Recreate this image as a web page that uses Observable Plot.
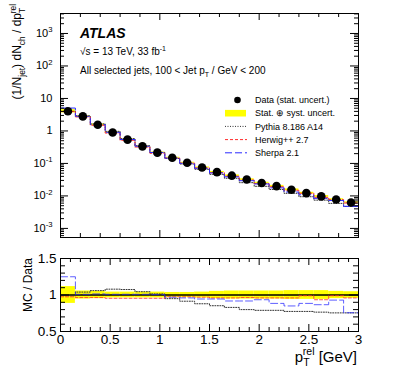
<!DOCTYPE html>
<html><head><meta charset="utf-8">
<script src="https://cdn.jsdelivr.net/npm/d3@7"></script>
<script src="https://cdn.jsdelivr.net/npm/@observablehq/plot@0.6"></script>
<style>
html,body{margin:0;padding:0;background:#fff;}
#chart{position:relative;width:399px;height:379px;overflow:hidden;font-family:"Liberation Sans",Arial,Helvetica,sans-serif;}
#chart svg{position:absolute;left:0;}
</style></head><body><div id="chart"></div>
<script>
// ---- data ----
const binEdges = [0,0.15,0.3,0.45,0.6,0.75,0.9,1.05,1.2,1.35,1.5,1.65,1.8,1.95,2.1,2.25,2.4,2.55,2.7,2.85,3.0];
const dataValues = [4.05,2.8,1.55,0.90,0.54,0.335,0.215,0.15,0.105,0.075,0.054,0.042,0.032,0.025,0.020,0.0155,0.0122,0.0097,0.0078,0.0063];
const totalUncert = [0.115,0.055,0.05,0.04,0.04,0.04,0.04,0.035,0.035,0.04,0.05,0.055,0.055,0.055,0.055,0.06,0.06,0.06,0.05,0.045];
const pythiaRatio = [0.99,1.04,1.06,1.08,1.075,1.045,1.015,0.95,0.915,0.88,0.853,0.83,0.80,0.79,0.79,0.775,0.775,0.765,0.755,0.755];
const herwigRatio = [0.975,0.965,0.965,0.955,0.955,0.955,0.955,0.975,0.975,0.97,0.96,0.96,0.965,0.96,0.96,0.96,0.99,0.935,0.99,0.96];
const sherpaRatio = [1.25,1.01,1.015,1.01,1.01,1.01,1.005,0.97,0.96,0.945,0.945,0.918,0.918,0.935,0.885,0.85,0.885,0.867,0.93,0.757];
const yTickValues = [1e3,1e2,10,1,0.1,0.01,0.001];
const yTickLabels = ["10^{3}","10^{2}","10","1","10^{-1}","10^{-2}","10^{-3}"];
const ratioTickValues = [0.5,1,1.5];
const ratioTickLabels = ["0.5","1","1.5"];
const xTickValues = [0,0.5,1,1.5,2,2.5,3];
const xTickLabels = ["0","0.5","1","1.5","2","2.5","3"];
const legendLabels = ["Data (stat. uncert.)","Stat. \u2295 syst. uncert.","Pythia 8.186 A14","Herwig++ 2.7","Sherpa 2.1"];

// ---- styles ----
const FONT = "Liberation Sans, Arial, Helvetica, sans-serif";
const C_PY = "#333333", D_PY = "1,1.5";
const C_HW = "#ff2a2a", D_HW = "3,2";
const C_SH = "#2a2aff", D_SH = "7,3";
const YEL = "#ffff00";

const bins = dataValues.map((v,i)=>({x1:binEdges[i], x2:binEdges[i+1], xc:(binEdges[i]+binEdges[i+1])/2, v, e:totalUncert[i]}));
function stepRows(ratio, absolute) {
  const rows = ratio.map((r,i)=>({x:binEdges[i], y: absolute ? dataValues[i]*r : r}));
  rows.push({x:binEdges[binEdges.length-1], y:rows[rows.length-1].y});
  return rows;
}
const minorLog = [];
for (let e=-4;e<=3;e++) for (let m=2;m<=9;m++) { const v=m*Math.pow(10,e); if (v>5.25e-4 && v<4120) minorLog.push(v); }
const mainXMinor = d3.range(0.2, 3.0, 0.2).filter(v=>Math.abs(v-1)>1e-6 && Math.abs(v-2)>1e-6);
const mainXMajor = [1,2];
const ratioXMinor = d3.range(0.1, 3.0, 0.1).filter(v=>Math.abs(v*2-Math.round(v*2))>1e-6);
const ratioXMajor = [0.5,1,1.5,2,2.5];
const ratioYMinor = [0.6,0.7,0.8,0.9,1.1,1.2,1.3,1.4];
const ratioYMajor = [1];

// ---- rich text (sub/superscripts) ----
const NS = "http://www.w3.org/2000/svg";
function richText(root) {
  root.querySelectorAll("text").forEach(t => {
    const s = t.textContent;
    if (!/[_^]\{/.test(s)) return;
    const fs = parseFloat(getComputedStyle(t).fontSize) || 10;
    while (t.firstChild) t.removeChild(t.firstChild);
    const re = /_\{([^}]*)\}\^\{([^}]*)\}|\^\{([^}]*)\}|_\{([^}]*)\}|([^_^]+)/g;
    let m, shift = 0, pendDx = 0;
    const add = (txt, target, size) => {
      const sp = document.createElementNS(NS, "tspan");
      sp.textContent = txt;
      sp.setAttribute("dy", (target - shift).toFixed(2));
      shift = target;
      if (size) sp.setAttribute("font-size", size.toFixed(2));
      if (pendDx) { sp.setAttribute("dx", pendDx.toFixed(2)); pendDx = 0; }
      t.appendChild(sp);
      return sp;
    };
    while ((m = re.exec(s))) {
      if (m[1] !== undefined) {
        const a = add(m[1], 0.3*fs, 0.7*fs);
        const wa = a.getComputedTextLength();
        const b = add(m[2], -0.42*fs, 0.7*fs);
        b.setAttribute("dx", (-wa).toFixed(2));
        const wb = b.getComputedTextLength();
        if (wa > wb) pendDx = wa - wb;
      } else if (m[3] !== undefined) add(m[3], -0.42*fs, 0.7*fs);
      else if (m[4] !== undefined) add(m[4], 0.3*fs, 0.7*fs);
      else add(m[5], 0, null);
    }
  });
}

const chart = document.getElementById("chart");

// ---- main panel ----
const MW = 298, MH = 224;
const main = Plot.plot({
  width: 399, height: 240,
  marginTop: 13, marginBottom: 3, marginLeft: 60, marginRight: 41,
  style: {fontFamily: FONT, fontSize: "11px", background: "transparent"},
  x: {domain: [0,3], axis: null},
  y: {type: "log", domain: [5.25e-4, 4120], axis: null},
  marks: [
    Plot.rect(bins, {x1:"x1", x2:"x2", y1:d=>d.v*(1-d.e), y2:d=>d.v*(1+d.e), fill:YEL}),
    Plot.line(stepRows(pythiaRatio,true), {x:"x", y:"y", curve:"step-after", stroke:C_PY, strokeWidth:1, strokeDasharray:D_PY}),
    Plot.line(stepRows(herwigRatio,true), {x:"x", y:"y", curve:"step-after", stroke:C_HW, strokeWidth:1, strokeDasharray:D_HW}),
    Plot.line(stepRows(sherpaRatio,true), {x:"x", y:"y", curve:"step-after", stroke:C_SH, strokeWidth:1, strokeDasharray:D_SH}),
    Plot.dot(bins, {x:"xc", y:"v", r:4.3, fill:"black", stroke:null}),
    Plot.tickX(mainXMinor, {x:d=>d, insetTop:MH-4, stroke:"black"}),
    Plot.tickX(mainXMinor, {x:d=>d, insetBottom:MH-4, stroke:"black"}),
    Plot.tickX(mainXMajor, {x:d=>d, insetTop:MH-7, stroke:"black"}),
    Plot.tickX(mainXMajor, {x:d=>d, insetBottom:MH-7, stroke:"black"}),
    Plot.tickY(minorLog, {y:d=>d, insetRight:MW-4, stroke:"black"}),
    Plot.tickY(minorLog, {y:d=>d, insetLeft:MW-4, stroke:"black"}),
    Plot.tickY(yTickValues, {y:d=>d, insetRight:MW-8, stroke:"black"}),
    Plot.tickY(yTickValues, {y:d=>d, insetLeft:MW-8, stroke:"black"}),
    Plot.frame({stroke:"black", strokeWidth:1}),
    Plot.text(yTickValues, {y:d=>d, text:(d,i)=>yTickLabels[i], frameAnchor:"left", dx:-8, textAnchor:"end", lineAnchor:"middle", fontSize:11, fill:"black"})
  ]
});
main.style.top = "0px";
chart.appendChild(main);

// annotations & legend (main panel)
const ms = d3.select(main);
const ann = ms.append("g").attr("text-anchor","start").attr("font-family",FONT).attr("fill","black");
ann.append("text").attr("x",80).attr("y",37.5).attr("font-size",14).attr("font-weight","bold").attr("font-style","italic").text("ATLAS");
ann.append("text").attr("x",80).attr("y",55).attr("font-size",10).text("\u221As = 13 TeV, 33 fb^{-1}");
ann.append("text").attr("x",80).attr("y",74).attr("font-size",10).text("All selected jets, 100 < Jet p_{T} / GeV < 200");
ann.append("text").attr("transform","translate(21,4) rotate(-90)").attr("text-anchor","end").attr("font-size",12).text("(1/N_{jet}) dN_{ch} / dp_{T}^{rel}");
const rowY = [100,113.2,126.4,139.6,152.8];
const lg = ms.append("g").attr("text-anchor","start").attr("font-family",FONT);
lg.append("circle").attr("cx",237.5).attr("cy",rowY[0]).attr("r",3.3).attr("fill","black");
lg.append("rect").attr("x",225).attr("y",rowY[1]-3.3).attr("width",21).attr("height",6.6).attr("fill",YEL);
[[C_PY,D_PY],[C_HW,D_HW],[C_SH,D_SH]].forEach(([c,d],k)=>{
  lg.append("line").attr("x1",225).attr("x2",247).attr("y1",rowY[k+2]).attr("y2",rowY[k+2]).attr("stroke",c).attr("stroke-width",1).attr("stroke-dasharray",d);
});
legendLabels.forEach((s,k)=>{
  lg.append("text").attr("x",255).attr("y",rowY[k]+3.2).attr("font-size",9).attr("fill","black").text(s);
});
richText(main);

// ---- ratio panel ----
const RW = 298, RH = 73;
const ratio = Plot.plot({
  width: 399, height: 139,
  marginTop: 18, marginBottom: 48, marginLeft: 60, marginRight: 41,
  style: {fontFamily: FONT, fontSize: "13px", background: "transparent"},
  x: {domain: [0,3], axis: null},
  y: {domain: [0.5,1.5], axis: null},
  marks: [
    Plot.rect(bins, {x1:"x1", x2:"x2", y1:d=>1-d.e, y2:d=>1+d.e, fill:YEL}),
    Plot.ruleY([1], {stroke:"black", strokeWidth:1.5}),
    Plot.line(stepRows(pythiaRatio,false), {x:"x", y:"y", curve:"step-after", stroke:C_PY, strokeWidth:1, strokeDasharray:D_PY}),
    Plot.line(stepRows(herwigRatio,false), {x:"x", y:"y", curve:"step-after", stroke:C_HW, strokeWidth:1, strokeDasharray:D_HW, strokeOpacity:0.8}),
    Plot.line(stepRows(sherpaRatio,false), {x:"x", y:"y", curve:"step-after", stroke:C_SH, strokeWidth:1, strokeDasharray:D_SH, strokeOpacity:0.75}),
    Plot.tickX(ratioXMinor, {x:d=>d, insetTop:RH-4, stroke:"black"}),
    Plot.tickX(ratioXMinor, {x:d=>d, insetBottom:RH-4, stroke:"black"}),
    Plot.tickX(ratioXMajor, {x:d=>d, insetTop:RH-7, stroke:"black"}),
    Plot.tickX(ratioXMajor, {x:d=>d, insetBottom:RH-7, stroke:"black"}),
    Plot.tickY(ratioYMinor, {y:d=>d, insetRight:RW-5, stroke:"black"}),
    Plot.tickY(ratioYMinor, {y:d=>d, insetLeft:RW-5, stroke:"black"}),
    Plot.tickY(ratioYMajor, {y:d=>d, insetRight:RW-9, stroke:"black"}),
    Plot.tickY(ratioYMajor, {y:d=>d, insetLeft:RW-9, stroke:"black"}),
    Plot.frame({stroke:"black", strokeWidth:1}),
    Plot.text(ratioTickValues, {y:d=>d, text:(d,i)=>ratioTickLabels[i], frameAnchor:"left", dx:-4, textAnchor:"end", lineAnchor:"middle", fontSize:13.5, fill:"black"}),
    Plot.text(xTickValues, {x:d=>d, text:(d,i)=>xTickLabels[i], frameAnchor:"bottom", dy:8.5, textAnchor:"middle", lineAnchor:"middle", fontSize:13.5, fill:"black"})
  ]
});
ratio.style.top = "240px";
chart.appendChild(ratio);
const rs = d3.select(ratio);
const ann2 = rs.append("g").attr("font-family",FONT).attr("fill","black");
ann2.append("text").attr("transform","translate(32,18) rotate(-90)").attr("text-anchor","end").attr("font-size",12).text("MC / Data");
ann2.append("text").attr("x",357).attr("y",121.5).attr("text-anchor","end").attr("font-size",15).text("p_{T}^{rel} [GeV]");
richText(ratio);
</script>
</body></html>
